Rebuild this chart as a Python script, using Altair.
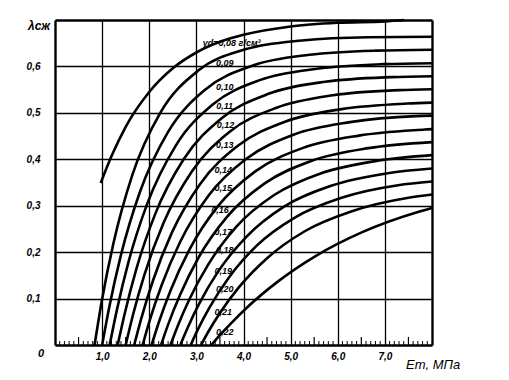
import altair as alt
import pandas as pd

# dry density of each curve (g/cm3)
densities = ["0,08", "0,09", "0,10", "0,11", "0,12", "0,13", "0,14", "0,15",
             "0,16", "0,17", "0,18", "0,19", "0,20", "0,21", "0,22"]

# curves (E_t in MPa, lambda)
x_08 = [0.97, 1.2, 1.5, 2.0, 2.5, 3.0, 3.5, 4.0, 5.0, 6.0, 7.0, 7.4]
y_08 = [0.349, 0.407, 0.470, 0.545, 0.596, 0.630, 0.653, 0.668, 0.686, 0.694, 0.697, 0.700]
x_09 = [0.84, 0.99, 1.24, 1.64, 2.24, 3.04, 4.04, 5.24, 6.64, 8.0]
y_09 = [0.0, 0.093, 0.219, 0.366, 0.501, 0.591, 0.637, 0.656, 0.663, 0.664]
x_10 = [1.00, 1.15, 1.40, 1.80, 2.40, 3.20, 4.20, 5.40, 6.80, 8.0]
y_10 = [0.0, 0.081, 0.194, 0.329, 0.459, 0.551, 0.602, 0.625, 0.634, 0.636]
x_11 = [1.16, 1.31, 1.56, 1.96, 2.56, 3.36, 4.36, 5.56, 6.96, 8.0]
y_11 = [0.0, 0.074, 0.179, 0.305, 0.429, 0.519, 0.571, 0.595, 0.605, 0.607]
x_12 = [1.33, 1.48, 1.73, 2.13, 2.73, 3.53, 4.53, 5.73, 7.13, 8.0]
y_12 = [0.0, 0.068, 0.165, 0.283, 0.400, 0.488, 0.541, 0.567, 0.577, 0.579]
x_13 = [1.50, 1.65, 1.90, 2.30, 2.90, 3.70, 4.70, 5.90, 7.30, 8.0]
y_13 = [0.0, 0.063, 0.152, 0.262, 0.373, 0.459, 0.511, 0.538, 0.549, 0.551]
x_14 = [1.68, 1.83, 2.08, 2.48, 3.08, 3.88, 4.88, 6.08, 7.48, 8.0]
y_14 = [0.0, 0.057, 0.139, 0.242, 0.347, 0.429, 0.481, 0.508, 0.520, 0.522]
x_15 = [1.86, 2.01, 2.26, 2.66, 3.26, 4.06, 5.06, 6.26, 7.66, 8.0]
y_15 = [0.0, 0.053, 0.128, 0.223, 0.322, 0.401, 0.453, 0.480, 0.493, 0.494]
x_16 = [2.05, 2.20, 2.45, 2.85, 3.45, 4.25, 5.25, 6.45, 7.85, 8.0]
y_16 = [0.0, 0.048, 0.117, 0.205, 0.298, 0.374, 0.424, 0.451, 0.464, 0.465]
x_17 = [2.25, 2.40, 2.65, 3.05, 3.65, 4.45, 5.45, 6.65, 8.0]
y_17 = [0.0, 0.044, 0.107, 0.189, 0.276, 0.348, 0.397, 0.424, 0.437]
x_18 = [2.45, 2.60, 2.85, 3.25, 3.85, 4.65, 5.65, 6.85, 8.0]
y_18 = [0.0, 0.040, 0.098, 0.173, 0.255, 0.323, 0.370, 0.397, 0.409]
x_19 = [2.66, 2.81, 3.06, 3.46, 4.06, 4.86, 5.86, 7.06, 8.0]
y_19 = [0.0, 0.036, 0.089, 0.158, 0.233, 0.298, 0.343, 0.370, 0.380]
x_20 = [2.88, 3.03, 3.28, 3.68, 4.28, 5.08, 6.08, 7.28, 8.0]
y_20 = [0.0, 0.033, 0.081, 0.144, 0.214, 0.274, 0.317, 0.344, 0.352]
x_21 = [3.10, 3.25, 3.50, 3.90, 4.50, 5.30, 6.30, 7.50, 8.0]
y_21 = [0.0, 0.028, 0.069, 0.124, 0.187, 0.245, 0.288, 0.317, 0.324]
x_22 = [3.32, 3.47, 3.72, 4.12, 4.72, 5.52, 6.52, 7.72, 8.0]
y_22 = [0.0, 0.018, 0.045, 0.085, 0.136, 0.191, 0.243, 0.287, 0.295]

curve_xs = [x_08, x_09, x_10, x_11, x_12, x_13, x_14, x_15,
            x_16, x_17, x_18, x_19, x_20, x_21, x_22]
curve_ys = [y_08, y_09, y_10, y_11, y_12, y_13, y_14, y_15,
            y_16, y_17, y_18, y_19, y_20, y_21, y_22]

# curve labels and where they sit on the picture (data units)
label_text = ["γd=0,08 г/см³", "0,09", "0,10", "0,11", "0,12", "0,13", "0,14",
              "0,15", "0,16", "0,17", "0,18", "0,19", "0,20", "0,21", "0,22"]
label_x = [3.75, 3.6, 3.6, 3.6, 3.62, 3.6, 3.57, 3.57, 3.5, 3.57, 3.6, 3.57, 3.6, 3.57, 3.6]
label_y = [0.651, 0.608, 0.556, 0.515, 0.474, 0.431, 0.377, 0.338, 0.291,
           0.244, 0.205, 0.159, 0.121, 0.071, 0.028]

x_domain = [0, 8]
y_domain = [0, 0.7]
# grid positions; the outermost ones form the frame and carry no label
x_grid = [0, 1, 2, 3, 4, 5, 6, 7, 8]
y_grid = [0, 0.1, 0.2, 0.3, 0.4, 0.5, 0.6, 0.7]
minor_ticks = [round(i * 0.1, 1) for i in range(1, 80) if i % 5 != 0]
half_ticks = [round(i * 0.5, 1) for i in range(1, 16) if i % 2 == 1]

W, H = 377, 325
FONT = "Liberation Sans"

rows = []
for d, xs, ys in zip(densities, curve_xs, curve_ys):
    for xv, yv in zip(xs, ys):
        rows.append({"d": d, "x": xv, "y": yv})
curves = pd.DataFrame(rows)

xscale = alt.Scale(domain=x_domain, nice=False, zero=False)
yscale = alt.Scale(domain=y_domain, nice=False, zero=False)

x_edge = "datum.value <= 0 || datum.value >= 8"
y_edge = "datum.value <= 0 || datum.value >= 0.69"

x_axis = alt.Axis(values=x_grid, grid=True, gridColor="black",
                  gridWidth=alt.condition(x_edge, alt.value(2.4), alt.value(1.3)),
                  gridOpacity=1, tickSize=0, domain=False, title=None,
                  labelExpr="(datum.value <= 0 || datum.value >= 8) ? '' : replace(format(datum.value, '.1f'), '.', ',')",
                  labelFont=FONT, labelFontStyle="italic", labelFontWeight="bold",
                  labelFontSize=10, labelColor="black", labelPadding=6,
                  labelBound=False, labelFlush=False, labelOverlap=False)
y_axis = alt.Axis(values=y_grid, grid=True, gridColor="black",
                  gridWidth=alt.condition(y_edge, alt.value(2.4), alt.value(1.3)),
                  gridOpacity=1, tickSize=0, domain=False, title=None,
                  labelExpr="(datum.value <= 0 || datum.value >= 0.69) ? '' : replace(format(datum.value, '.1f'), '.', ',')",
                  labelFont=FONT, labelFontStyle="italic", labelFontWeight="bold",
                  labelFontSize=10, labelColor="black", labelPadding=15,
                  labelBound=False, labelFlush=False, labelOverlap=False)

lines = alt.Chart(curves).mark_line(
    color="black", strokeWidth=2.6, interpolate="monotone"
).encode(
    x=alt.X("x:Q", scale=xscale, axis=x_axis),
    y=alt.Y("y:Q", scale=yscale, axis=y_axis),
    detail="d:N",
    order="x:Q",
)

minor = alt.Chart(pd.DataFrame({"t": minor_ticks})).mark_rule(
    color="black", strokeWidth=1
).encode(x=alt.X("t:Q", scale=xscale), y=alt.value(H), y2=alt.value(H - 4))

half = alt.Chart(pd.DataFrame({"t": half_ticks})).mark_rule(
    color="black", strokeWidth=1.2
).encode(x=alt.X("t:Q", scale=xscale), y=alt.value(H), y2=alt.value(H - 8))

labels = alt.Chart(pd.DataFrame({"t": label_text, "lx": label_x, "ly": label_y})).mark_text(
    font=FONT, fontStyle="italic", fontWeight="bold", fontSize=9,
    align="center", baseline="middle", color="black"
).encode(x=alt.X("lx:Q", scale=xscale), y=alt.Y("ly:Q", scale=yscale), text="t:N")

origin = alt.Chart(pd.DataFrame({"x": [0], "y": [0], "t": ["0"]})).mark_text(
    font=FONT, fontStyle="italic", fontWeight="bold", fontSize=11,
    align="center", baseline="middle", dx=-14, dy=9, color="black"
).encode(x=alt.X("x:Q", scale=xscale), y=alt.Y("y:Q", scale=yscale), text="t:N")

ytitle = alt.Chart(pd.DataFrame({"x": [0], "y": [0.7], "t": ["λсж"]})).mark_text(
    font=FONT, fontStyle="italic", fontWeight="bold", fontSize=12,
    align="right", baseline="middle", dx=-5, dy=6, color="black"
).encode(x=alt.X("x:Q", scale=xscale), y=alt.Y("y:Q", scale=yscale), text="t:N")

xtitle = alt.Chart(pd.DataFrame({"x": [7.45], "y": [0], "t": ["Eт, МПа"]})).mark_text(
    font=FONT, fontStyle="italic", fontSize=13,
    align="left", baseline="middle", dy=20, color="black"
).encode(x=alt.X("x:Q", scale=xscale), y=alt.Y("y:Q", scale=yscale), text="t:N")

chart = alt.layer(lines, minor, half, labels, origin, ytitle, xtitle).properties(
    width=W, height=H,
    background="white",
    autosize=alt.AutoSizeParams(type="none"),
    padding={"left": 47, "top": 12, "right": 60, "bottom": 30},
).configure_view(strokeWidth=0)

chart.save("out.html", embed_options={"renderer": "svg", "actions": False})
